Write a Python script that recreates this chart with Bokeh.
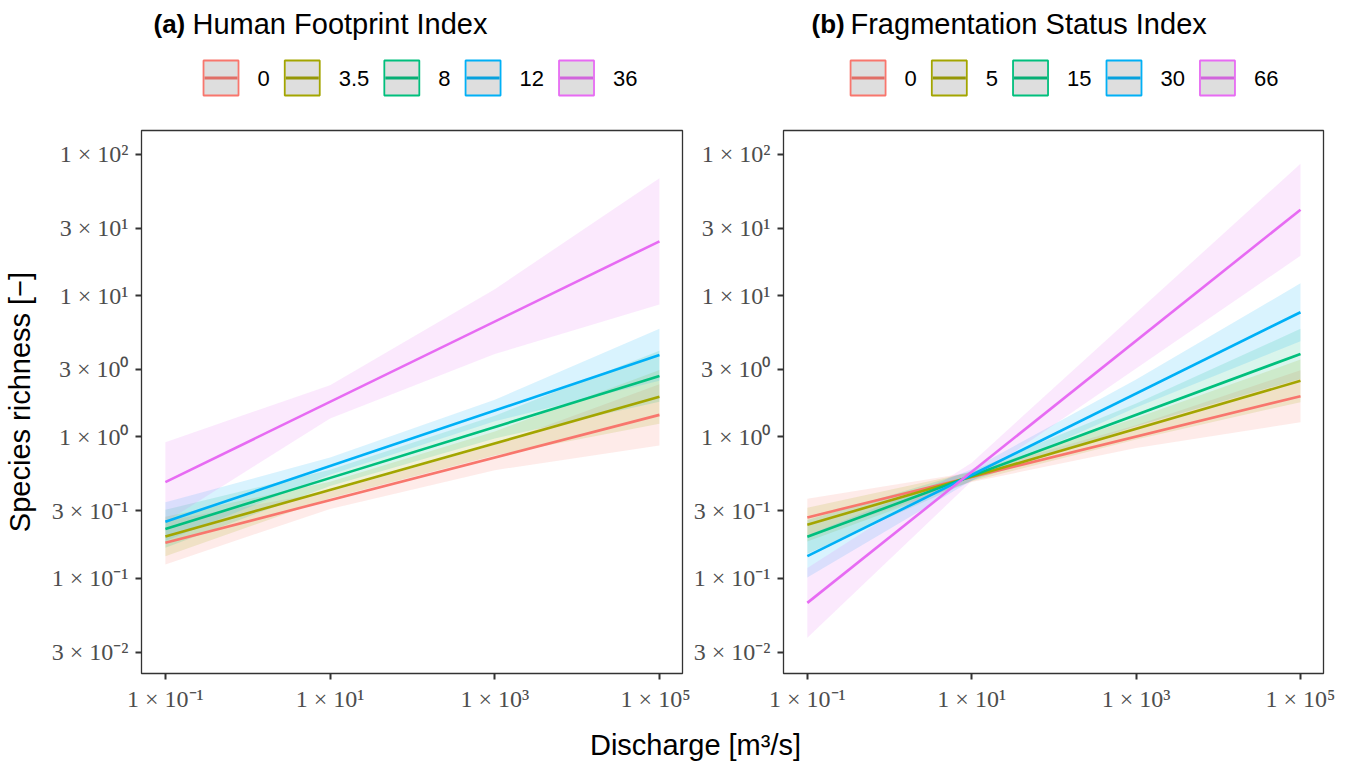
from bokeh.plotting import figure
from bokeh.models import Range1d, FixedTicker
from bokeh.core.properties import value
from bokeh.layouts import row, column
from bokeh.embed import file_html
from bokeh.resources import INLINE

# ---------------- data ----------------
colors = ["#F8766D", "#A3A500", "#00BF7D", "#00B0F6", "#E76BF3"]

x_line = [0.1, 1e5]
x_knots = [0.1, 10, 1000, 1e5]

# Panel (a): Human Footprint Index
hfi_labels = ["0", "3.5", "8", "12", "36"]
hfi_line = [
    [0.178, 1.43],
    [0.197, 1.92],
    [0.223, 2.69],
    [0.251, 3.80],
    [0.478, 24.2],
]
hfi_lower = [
    [0.125, 0.309, 0.581, 0.869],
    [0.143, 0.368, 0.738, 1.24],
    [0.164, 0.448, 0.975, 1.77],
    [0.183, 0.540, 1.29, 2.49],
    [0.249, 1.35, 3.85, 8.65],
]
hfi_upper = [
    [0.254, 0.411, 0.879, 2.36],
    [0.272, 0.481, 1.09, 2.97],
    [0.305, 0.585, 1.41, 4.06],
    [0.344, 0.714, 1.83, 5.81],
    [0.916, 2.32, 11.1, 67.5],
]

# Panel (b): Fragmentation Status Index
fsi_labels = ["0", "5", "15", "30", "66"]
fsi_line = [
    [0.269, 1.94],
    [0.239, 2.49],
    [0.196, 3.86],
    [0.143, 7.62],
    [0.0668, 40.5],
]
fsi_lower = [
    [0.198, 0.479, 0.834, 1.27],
    [0.182, 0.484, 0.959, 1.76],
    [0.149, 0.489, 1.19, 2.57],
    [0.101, 0.491, 1.61, 4.75],
    [0.0378, 0.486, 3.04, 19.1],
]
fsi_upper = [
    [0.364, 0.562, 1.21, 2.96],
    [0.315, 0.564, 1.36, 3.52],
    [0.258, 0.574, 1.72, 5.81],
    [0.201, 0.590, 2.55, 12.2],
    [0.118, 0.656, 7.53, 85.7],
]

x_ticks = [0.1, 10, 1000, 100000]
x_tick_labels = ["1 × 10⁻¹", "1 × 10¹", "1 × 10³", "1 × 10⁵"]
y_ticks = [0.03, 0.1, 0.3, 1, 3, 10, 30, 100]
y_tick_labels = ["3 × 10⁻²", "1 × 10⁻¹", "3 × 10⁻¹", "1 × 10⁰",
                 "3 × 10⁰", "1 × 10¹", "3 × 10¹", "1 × 10²"]

# ---------------- style / layout constants ----------------
SANS = "Liberation Sans"
SERIF = "Liberation Serif"
X_RANGE = (10 ** -1.29, 10 ** 5.28)
Y_RANGE = (10 ** -1.675, 10 ** 2.168)

W1, W2 = 690, 662          # widths of left / right column
HEAD_H, PANEL_H, FOOT_H = 128, 600, 34
TAG_FS, TITLE_FS, LEG_FS, AXT_FS, TICK_FS = 26, 29, 22, 29, 24
TITLE_GAP = 39             # tag start -> title start
KEY = 35                   # legend key size (px)
GAP_KL, GAP_LK = 19, 15    # key->label, label->next key


def darker(c):
    r, g, b = int(c[1:3], 16), int(c[3:5], 16), int(c[5:7], 16)
    f = lambda v: int(round(0.88 * v + 0.12 * 50))
    return "#%02X%02X%02X" % (f(r), f(g), f(b))


def text_w(s, fs):
    w = {".": 0.278, " ": 0.278}
    return sum(w.get(ch, 0.556) for ch in s) * fs


def blank(width, height, x0):
    p = figure(width=width, height=height,
               x_range=Range1d(x0, x0 + width), y_range=Range1d(height, 0),
               x_axis_location=None, y_axis_location=None, min_border=0,
               outline_line_color=None, toolbar_location=None,
               output_backend="svg", title=None)
    p.xgrid.visible = False
    p.ygrid.visible = False
    p.background_fill_color = "white"
    p.border_fill_color = "white"
    return p


def header(x0, width, tag, title, labels, tag_x, legend_center):
    h = blank(width, HEAD_H, x0)
    # panel title
    h.text(x=[tag_x], y=[23], text=[tag], text_font=value(SANS),
           text_font_size=value("%dpx" % TAG_FS), text_font_style="bold",
           text_baseline="middle", text_color="black")
    h.text(x=[tag_x + TITLE_GAP], y=[23], text=[title],
           text_font=value(SANS), text_font_size=value("%dpx" % TITLE_FS),
           text_baseline="middle", text_color="black")
    # legend: key boxes + line + labels
    widths = [text_w(s, LEG_FS) for s in labels]
    total = len(labels) * (KEY + GAP_KL) + sum(widths) + (len(labels) - 1) * GAP_LK
    x = legend_center - total / 2
    kx, lx = [], []
    for wdt in widths:
        kx.append(x + KEY / 2)
        lx.append(x + KEY + GAP_KL)
        x += KEY + GAP_KL + wdt + GAP_LK
    ky = 77.5
    h.rect(x=kx, y=[ky] * len(kx), width=KEY, height=KEY,
           fill_color="#DEDEDE", line_color=colors, line_width=1.8)
    h.segment(x0=[k - KEY / 2 + 1 for k in kx], y0=[ky] * len(kx),
              x1=[k + KEY / 2 - 1 for k in kx], y1=[ky] * len(kx),
              line_color=[darker(c) for c in colors], line_width=2.8)
    h.text(x=lx, y=[ky] * len(lx), text=labels, text_font=value(SANS),
           text_font_size=value("%dpx" % LEG_FS), text_baseline="middle",
           text_color="black")
    return h


def panel(labels, line_vals, lower, upper, width, border_left,
          border_right, ylabel=None):
    p = figure(width=width, height=PANEL_H, x_axis_type="log",
               y_axis_type="log", x_range=Range1d(*X_RANGE),
               y_range=Range1d(*Y_RANGE), toolbar_location=None,
               output_backend="svg", title=None,
               min_border_left=border_left, min_border_right=border_right,
               min_border_top=2, min_border_bottom=55)
    p.background_fill_color = "white"
    p.border_fill_color = "white"
    p.outline_line_color = "#333333"
    p.outline_line_width = 1.3
    p.xgrid.visible = False
    p.ygrid.visible = False

    for ax, ticks, tl in ((p.xaxis[0], x_ticks, x_tick_labels),
                          (p.yaxis[0], y_ticks, y_tick_labels)):
        ax.ticker = FixedTicker(ticks=ticks, minor_ticks=[])
        ax.major_label_overrides = dict(zip(ticks, tl))
        ax.axis_line_color = None
        ax.major_tick_line_color = "#333333"
        ax.major_tick_line_width = 2
        ax.major_tick_out = 6
        ax.major_tick_in = 0
        ax.minor_tick_line_color = None
        ax.major_label_text_font = SERIF
        ax.major_label_text_font_size = "%dpx" % TICK_FS
        ax.major_label_text_color = "#4D4D4D"
    p.xaxis.major_label_standoff = 6
    p.yaxis.major_label_standoff = 7
    if ylabel:
        p.yaxis.axis_label = ylabel
        p.yaxis.axis_label_text_font = SANS
        p.yaxis.axis_label_text_font_size = "%dpx" % AXT_FS
        p.yaxis.axis_label_text_font_style = "normal"
        p.yaxis.axis_label_text_color = "black"
        p.yaxis.axis_label_standoff = 13

    for i, c in enumerate(colors):
        p.varea(x=x_knots, y1=lower[i], y2=upper[i], fill_color=c,
                fill_alpha=0.15)
    for i, c in enumerate(colors):
        p.line(x=x_line, y=line_vals[i], line_color=c, line_width=2.6)
    return p


h1 = header(0, W1, "(a)", "Human Footprint Index", hfi_labels, 153, 420)
h2 = header(W1, W2, "(b)", "Fragmentation Status Index", fsi_labels, 811, 1064)

p1 = panel(hfi_labels, hfi_line, hfi_lower, hfi_upper, W1, 141, 8,
           ylabel="Species richness [−]")
p2 = panel(fsi_labels, fsi_line, fsi_lower, fsi_upper, W2, 92, 29)

foot = blank(W1 + W2, FOOT_H, 0)
foot.text(x=[695], y=[16], text=["Discharge [m³/s]"], text_font=value(SANS),
          text_font_size=value("%dpx" % AXT_FS), text_align="center",
          text_baseline="middle", text_color="black")

layout = column(row(h1, h2), row(p1, p2), foot)
open("out.html", "w").write(file_html(layout, INLINE))
